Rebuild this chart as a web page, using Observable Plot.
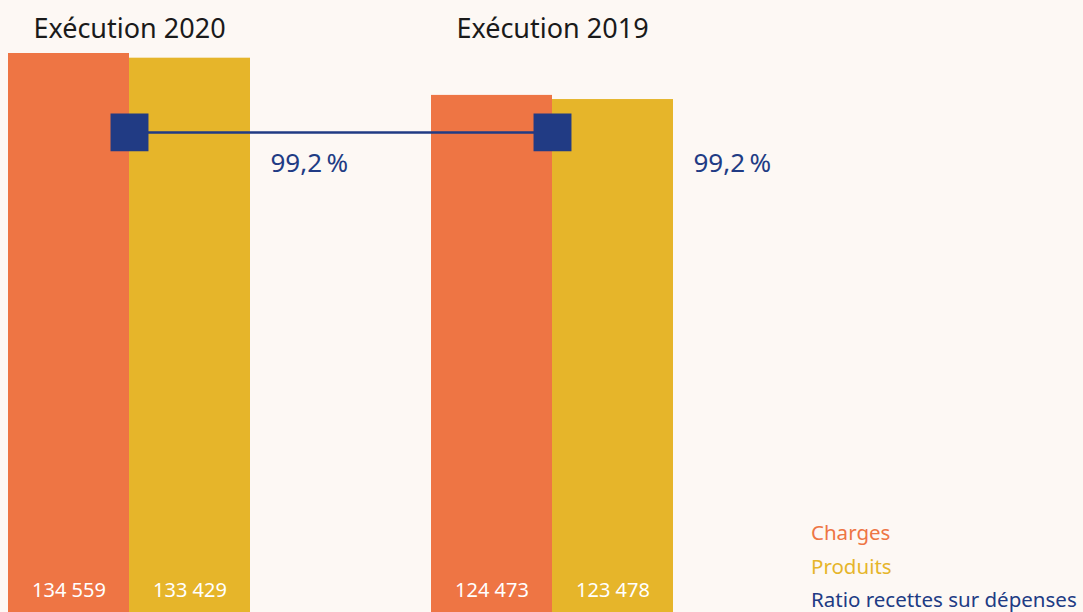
<!DOCTYPE html>
<html>
<head>
<meta charset="utf-8">
<script src="https://cdn.jsdelivr.net/npm/d3@7"></script>
<script src="https://cdn.jsdelivr.net/npm/@observablehq/plot@0.6"></script>
<style>
  html, body { margin: 0; padding: 0; background: #fdf8f4; }
  #wrap { position: relative; width: 1083px; height: 612px; overflow: hidden; font-family: "Noto Sans", sans-serif; }
  #legend { position: absolute; left: 811px; top: 516px; font-size: 20.5px; line-height: 33.5px; white-space: nowrap; }
</style>
</head>
<body>
<div id="wrap">
  <div id="chart"></div>
  <div id="legend"></div>
</div>
<script>
// ---- data ----
const years = ["Exécution 2020", "Exécution 2019"];
const charges = [134559, 124473];
const produits = [133429, 123478];
const ratios = [99.2, 99.2];
const seriesNames = ["Charges", "Produits", "Ratio recettes sur dépenses"];
const ratioAxisMax = 115.5; // secondary axis upper bound

const colors = { Charges: "#ee7544", Produits: "#e6b52a", Ratio: "#213b84" };

const locale = d3.formatLocale({ decimal: ",", thousands: "\u00a0", grouping: [3], currency: ["", ""] });
const fmtInt = locale.format(",d");
const fmtPct = v => locale.format(".1f")(v) + "\u202f%";

const bars = [];
years.forEach((y, i) => {
  bars.push({ year: y, series: "Charges", value: charges[i] });
  bars.push({ year: y, series: "Produits", value: produits[i] });
});
const yMax = d3.max(bars, d => d.value);
const ratioRows = years.map((y, i) => ({ year: y, ratio: ratios[i], yv: ratios[i] / ratioAxisMax * yMax }));

const bw = 242; // band width in px
const half = bw / 2;

const plot = Plot.plot({
  width: 1083,
  height: 612,
  marginLeft: 8,
  marginRight: 410,
  marginTop: 53,
  marginBottom: 0,
  style: { background: "transparent", fontFamily: "Noto Sans, sans-serif" },
  x: { domain: years, paddingInner: 181 / 423, paddingOuter: 0, axis: null },
  y: { domain: [0, yMax], axis: null, nice: false },
  marks: [
    Plot.barY(bars.filter(d => d.series === "Charges"), { x: "year", y: "value", fill: colors.Charges, insetRight: half }),
    Plot.barY(bars.filter(d => d.series === "Produits"), { x: "year", y: "value", fill: colors.Produits, insetLeft: half }),
    Plot.text(bars.filter(d => d.series === "Charges"), { x: "year", text: d => fmtInt(d.value), frameAnchor: "bottom", lineAnchor: "middle", dy: -22, dx: -half / 2, fill: "white", fontSize: 20 }),
    Plot.text(bars.filter(d => d.series === "Produits"), { x: "year", text: d => fmtInt(d.value), frameAnchor: "bottom", lineAnchor: "middle", dy: -22, dx: half / 2, fill: "white", fontSize: 20 }),
    Plot.text(years, { x: d => d, text: d => d, frameAnchor: "top", lineAnchor: "middle", dy: -24, fill: "#1a1a1a", fontSize: 27 }),
    Plot.line(ratioRows, { x: "year", y: "yv", stroke: colors.Ratio, strokeWidth: 2.5 }),
    Plot.dot(ratioRows, { x: "year", y: "yv", symbol: "square", r: 21.4, fill: colors.Ratio, stroke: "none" }),
    Plot.text(ratioRows, { x: "year", y: "yv", text: d => fmtPct(d.ratio), dx: half + 20, dy: 31, textAnchor: "start", fill: colors.Ratio, fontSize: 26 })
  ]
});
document.getElementById("chart").appendChild(plot);

const legendColors = [colors.Charges, colors.Produits, colors.Ratio];
const legend = document.getElementById("legend");
seriesNames.forEach((n, i) => {
  const div = document.createElement("div");
  div.textContent = n;
  div.style.color = legendColors[i];
  legend.appendChild(div);
});
</script>
</body>
</html>
